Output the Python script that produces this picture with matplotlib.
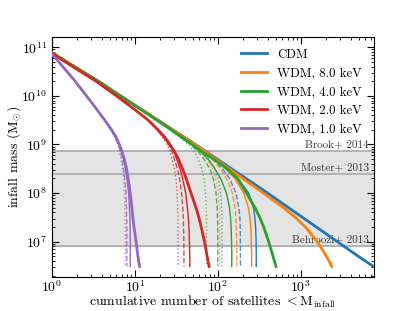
import matplotlib
matplotlib.use("Agg")
import matplotlib.pyplot as plt
import matplotlib.transforms as mtransforms

plt.rcParams['font.family'] = 'serif'
plt.rcParams['font.serif'] = ['cmr10']
plt.rcParams['mathtext.fontset'] = 'cm'
plt.rcParams['axes.formatter.use_mathtext'] = True
plt.rcParams['font.size'] = 10

# infall mass grid for the thick curves (Msun)
mass = [1.58e11, 1e11, 5e10, 2e10, 1e10, 5e9, 3.16e9, 2e9, 1.41e9, 1e9, 7.1e8,
        5e8, 3.16e8, 2e8, 1e8, 5e7, 3.16e7, 2e7, 1e7, 6.3e6, 4e6, 3.1e6]

# cumulative number of satellites above each mass
n_cdm = [0.51, 0.79, 1.51, 3.63, 6.76, 12.6, 19.0, 28.8, 39.5, 53.7, 72.5,
         98, 146, 218, 398, 711, 1047, 1542, 2754, 4055, 5970, 7500]
n_wdm8 = [0.51, 0.79, 1.51, 3.63, 6.7, 12.5, 18.8, 28.5, 39, 52.5, 71,
          94, 137, 200, 355, 620, 863, 1138, 1574, 1876, 2183, 2355]
n_wdm4 = [0.51, 0.79, 1.5, 3.6, 6.6, 12.3, 18.4, 27.5, 36.7, 49, 64.5,
          89, 129, 172, 221, 280, 320, 357, 409, 444, 480, 501]
n_wdm2 = [0.47, 0.76, 1.45, 3.4, 6.0, 10.3, 14.5, 19, 23, 26.5, 30,
          33.5, 37.5, 41.5, 47.5, 54.5, 59, 63, 69, 72.5, 76, 78.5]
n_wdm1 = [0.66, 0.84, 1.21, 1.91, 2.61, 3.56, 4.34, 5.25, 5.95, 6.5, 7.0,
          7.46, 7.93, 8.3, 8.8, 9.2, 9.45, 9.77, 10.35, 10.7, 11.1, 11.4]

# mass grid for the thin (solid / dashed / dotted) curves
mass_thin = [3.16e9, 2e9, 1.41e9, 1e9, 7.1e8, 5e8, 3.16e8, 2e8, 1e8, 5e7,
             3.16e7, 2e7, 1e7, 6.3e6, 4e6, 3.1e6]

cdm_solid = [19.0, 28.5, 39, 53, 72, 95, 133, 175, 235, 268, 279, 285, 289, 290, 290, 290]
cdm_dashed = [19.0, 28.3, 38.5, 52, 69, 88, 114, 138, 165, 179, 184, 186, 187, 187, 187, 187]
cdm_dotted = [19.0, 28, 38, 50, 64, 78, 92, 101, 108, 111, 112, 112, 112, 112, 112, 112]

wdm8_solid = [18.8, 28.3, 38.5, 52, 70, 92, 125, 160, 205, 233, 243, 249, 253, 255, 255, 255]
wdm8_dashed = [18.8, 28.2, 38.2, 51, 67, 85, 108, 127, 150, 161, 165, 167, 168.5, 169, 169, 169]
wdm8_dotted = [18.8, 28, 37.5, 49, 62, 74, 86, 94, 101, 104, 105, 105, 105, 105, 105, 105]

wdm4_solid = [18.4, 27, 36.3, 48, 62, 76, 92, 108, 127, 138, 142, 144.5, 146, 147, 147, 147]
wdm4_dashed = [18.4, 26.8, 36, 46.5, 58, 68, 80, 88, 95, 98, 99, 99.5, 100, 100, 100, 100]
wdm4_dotted = [18.4, 26.5, 35, 44, 52, 58, 64, 68, 71, 72.5, 73, 73, 73, 73, 73, 73]

wdm2_solid = [14.5, 18.7, 22.5, 26, 29.5, 32, 35, 37.5, 41, 43, 44, 44.8, 45.4, 45.7, 45.9, 46]
wdm2_dashed = [14.5, 18.5, 22, 25.3, 28, 30, 32.5, 34.5, 36.5, 37.8, 38.3, 38.6, 38.9, 39, 39, 39]
wdm2_dotted = [14.5, 18.3, 21.5, 24.3, 26.5, 28, 30, 31.3, 32.3, 32.7, 33, 33, 33, 33, 33, 33]

wdm1_solid = [4.34, 5.2, 5.9, 6.45, 6.95, 7.3, 7.7, 8.0, 8.4, 8.6, 8.7, 8.75, 8.8, 8.8, 8.8, 8.8]
wdm1_dashed = [4.34, 5.15, 5.8, 6.3, 6.75, 7.0, 7.3, 7.55, 7.8, 7.92, 7.96, 8.0, 8.0, 8.0, 8.0, 8.0]
wdm1_dotted = [4.34, 5.1, 5.7, 6.2, 6.55, 6.8, 7.1, 7.3, 7.5, 7.6, 7.64, 7.65, 7.65, 7.65, 7.65, 7.65]

labels = ['CDM', 'WDM, 8.0 keV', 'WDM, 4.0 keV', 'WDM, 2.0 keV', 'WDM, 1.0 keV']
colors = ['#1f77b4', '#ff7f0e', '#2ca02c', '#d62728', '#9467bd']
thick = [n_cdm, n_wdm8, n_wdm4, n_wdm2, n_wdm1]
thin = [
    (cdm_solid, cdm_dashed, cdm_dotted),
    (wdm8_solid, wdm8_dashed, wdm8_dotted),
    (wdm4_solid, wdm4_dashed, wdm4_dotted),
    (wdm2_solid, wdm2_dashed, wdm2_dotted),
    (wdm1_solid, wdm1_dashed, wdm1_dotted),
]

# abundance matching constraints
am_names = ['Brook+ 2014', 'Moster+ 2013', 'Behroozi+ 2013']
am_mass = [7.5e8, 2.5e8, 8e6]

fig, ax = plt.subplots(figsize=(4.15, 3.11), dpi=100)

ax.axhspan(min(am_mass), max(am_mass), color='#e4e4e4', zorder=0)
trans = mtransforms.blended_transform_factory(ax.transAxes, ax.transData)
for name, m in zip(am_names, am_mass):
    ax.axhline(m, color='#aaaaaa', lw=1.2, zorder=1)
    ax.text(0.985, m * 1.06, name, transform=trans, ha='right', va='bottom',
            fontsize=8, color='#333333', zorder=1)

for lab, c, n, (s, d, o) in zip(labels, colors, thick, thin):
    ax.plot(n, mass, color=c, lw=2, label=lab, zorder=3)
    ax.plot(s, mass_thin, color=c, lw=1, zorder=2)
    ax.plot(d, mass_thin, color=c, lw=1, ls='--', alpha=0.8, zorder=2)
    ax.plot(o, mass_thin, color=c, lw=1, ls=':', alpha=0.7, zorder=2)

ax.set_xscale('log')
ax.set_yscale('log')
ax.set_xlim(1, 7500)
ax.set_ylim(1.9e6, 1.6e11)
ax.tick_params(which='both', direction='in', top=True, right=True)
ax.tick_params(axis='x', which='major', pad=2)
ax.tick_params(which='major', length=5)
ax.tick_params(which='minor', length=2.5)

ax.set_xlabel(r'cumulative number of satellites $<\mathrm{M}_{\rm infall}$',
              fontsize=10, labelpad=-1)
ax.set_ylabel(r'infall mass ($\mathrm{M}_{\odot}$)', fontsize=10, labelpad=-1)
ax.legend(loc='upper right', frameon=False, fontsize=9.2)

fig.savefig('out.png', dpi=100)
